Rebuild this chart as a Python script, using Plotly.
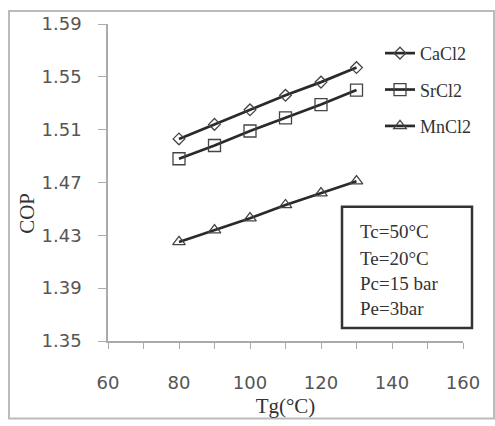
import plotly.graph_objects as go

tg = [80, 90, 100, 110, 120, 130]
cacl2 = [1.503, 1.514, 1.525, 1.536, 1.546, 1.557]
srcl2 = [1.488, 1.498, 1.509, 1.519, 1.529, 1.540]
mncl2 = [1.425, 1.434, 1.443, 1.453, 1.462, 1.471]
names = ["CaCl2", "SrCl2", "MnCl2"]
symbols = ["diamond-open", "square-open", "triangle-up-open"]
sizes = [9, 12, 11]
conditions = ["Tc=50°C", "Te=20°C", "Pc=15 bar", "Pe=3bar"]

W, H = 495, 426
L, R, T, B = 108, 463, 24, 343


def px(x):
    return (x - L) / (R - L)


def py(y):
    return (B - y) / (B - T)


fig = go.Figure()
for i, (nm, ys) in enumerate(zip(names, [cacl2, srcl2, mncl2])):
    fig.add_trace(go.Scatter(
        x=tg, y=ys, name=nm, mode="lines+markers",
        legendgroup=nm,
        line=dict(color="#2a2a2a", width=2.7),
        marker=dict(symbol=symbols[i], size=sizes[i], color="#444444",
                    line=dict(width=1.3, color="#444444")),
    ))

tickfont = dict(family="DejaVu Sans", size=18, color="#555555")
fig.update_layout(
    width=W, height=H,
    margin=dict(l=L, r=W - R, t=T, b=H - B),
    paper_bgcolor="white", plot_bgcolor="white",
    showlegend=True,
    legend=dict(x=px(380), y=py(35), xanchor="left", yanchor="top",
                traceorder="grouped", tracegroupgap=10,
                font=dict(family="Liberation Serif", size=18, color="#333333"),
                bgcolor="rgba(0,0,0,0)"),
    xaxis=dict(range=[60, 160], dtick=20, tick0=60, showgrid=False, zeroline=False,
               showline=True, linecolor="#aaaaaa", linewidth=1.5,
               ticks="outside", ticklen=6, tickcolor="#aaaaaa",
               minor=dict(dtick=10, ticks="outside", ticklen=6, tickcolor="#aaaaaa"),
               tickfont=tickfont, ticklabelstandoff=19,
               title=dict(text="Tg(°C)", font=dict(family="Liberation Serif", size=21, color="#333333"),
                          standoff=6)),
    yaxis=dict(range=[1.35, 1.59], dtick=0.04, tick0=1.35, tickformat=".2f",
               showgrid=False, zeroline=False,
               showline=True, linecolor="#aaaaaa", linewidth=1.5,
               ticks="outside", ticklen=8, tickcolor="#aaaaaa",
               tickfont=tickfont, ticklabelstandoff=13,
               title=dict(text="")),
)

# COP axis title
fig.add_annotation(text="COP", x=px(27), y=py(215), xref="paper", yref="paper",
                   xanchor="center", yanchor="middle",
                   textangle=-90, showarrow=False,
                   font=dict(family="Liberation Serif", size=21, color="#333333"))

# conditions box
fig.add_shape(type="rect", xref="paper", yref="paper",
              x0=px(342), x1=px(472), y0=py(330), y1=py(208),
              line=dict(color="#333333", width=2.5))
for txt, yy in zip(conditions, [233, 260, 285, 310]):
    fig.add_annotation(text=txt, x=px(358), y=py(yy), xref="paper", yref="paper",
                       xanchor="left", yanchor="middle", showarrow=False,
                       font=dict(family="Liberation Serif", size=19, color="#333333"))

# outer frame
fig.add_shape(type="rect", xref="paper", yref="paper",
              x0=px(9), x1=px(494), y0=py(421), y1=py(11),
              line=dict(color="#bbbbbb", width=2))

fig.write_html("out.html")
